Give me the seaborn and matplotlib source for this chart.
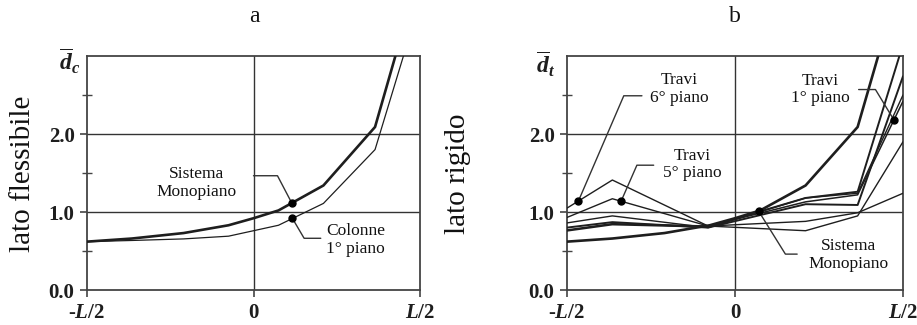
import numpy as np
import pandas as pd
import matplotlib
matplotlib.use("Agg")
import matplotlib.pyplot as plt
import seaborn as sns

# ---- data -------------------------------------------------------------
# positions along the plan, from -L/2 to L/2 (in units of L)
x_sys = [-0.5, -0.365, -0.21, -0.075, 0.0, 0.075, 0.21, 0.365, 0.5]
sistema_monopiano = [0.62, 0.66, 0.73, 0.83, 0.92, 1.02, 1.34, 2.09, 4.1]
colonne_1_piano = [0.62, 0.635, 0.655, 0.69, 0.76, 0.83, 1.11, 1.80, 3.7]

x_travi = [-0.5, -0.365, -0.08, 0.21, 0.365, 0.5]
travi_1_piano = [0.77, 0.85, 0.82, 1.13, 1.22, 2.42]
travi_2_piano = [0.76, 0.84, 0.81, 1.18, 1.26, 3.15]
travi_3_piano = [0.80, 0.87, 0.80, 1.10, 1.09, 2.74]
travi_4_piano = [0.86, 0.95, 0.80, 1.18, 1.24, 2.50]
travi_5_piano = [0.93, 1.17, 0.82, 0.88, 0.99, 1.24]
travi_6_piano = [1.05, 1.41, 0.82, 0.76, 0.95, 1.90]

y_ticks = [0.0, 1.0, 2.0]
y_ticklabels = ["0.0", "1.0", "2.0"]
x_ticks = [-0.5, 0.0, 0.5]
x_ticklabels = [r"-$\mathbfit{L}$/2", "0", r"$\mathbfit{L}$/2"]

# ---- style ------------------------------------------------------------
sns.set_theme(style="white")
plt.rcParams["font.family"] = ["Liberation Serif", "DejaVu Serif"]
plt.rcParams["mathtext.fontset"] = "custom"
plt.rcParams["mathtext.rm"] = "Liberation Serif"
plt.rcParams["mathtext.it"] = "Liberation Serif:italic"
plt.rcParams["mathtext.bf"] = "Liberation Serif:bold"
plt.rcParams["mathtext.bfit"] = "Liberation Serif:italic:bold"

INK = "#1e1e1e"
FRAME = "#444444"

fig = plt.figure(figsize=(9.17, 3.25), dpi=100)
ax_a = fig.add_axes([87 / 917, 35 / 325, 333 / 917, 234 / 325])
ax_b = fig.add_axes([567 / 917, 35 / 325, 336 / 917, 234 / 325])


def frame(ax):
    ax.set_xlim(-0.5, 0.5)
    ax.set_ylim(0, 3.0)
    for s in ax.spines.values():
        s.set_color(FRAME)
        s.set_linewidth(1.3)
    ax.axhline(1.0, color="#333333", lw=1.0, zorder=1)
    ax.axhline(2.0, color="#333333", lw=1.0, zorder=1)
    ax.axvline(0.0, color="#333333", lw=1.0, zorder=1)
    ax.set_yticks(y_ticks)
    ax.set_yticklabels(y_ticklabels, fontweight="bold", fontsize=15)
    ax.set_yticks([0.5, 1.5, 2.5], minor=True)
    ax.set_xticks(x_ticks)
    ax.set_xticklabels(x_ticklabels, fontweight="bold", fontsize=15)
    ax.tick_params(which="major", direction="out", length=5, width=1.2,
                   color=FRAME, labelcolor=INK, left=True, bottom=True)
    ax.tick_params(axis="y", which="major", pad=4)
    ax.tick_params(axis="x", which="major", pad=4)
    ax.tick_params(which="minor", axis="y", direction="inout", length=7,
                   width=1.0, color=FRAME, left=True)
    ax.set_xlabel("")
    ax.set_ylabel("")


def curve(ax, xs, ys, lw):
    sns.lineplot(x=xs, y=ys, ax=ax, color=INK, lw=lw, sort=False,
                 estimator=None, zorder=3)


def dot(ax, xs, ys, xm):
    ym = np.interp(xm, xs, ys)
    ax.plot([xm], [ym], "o", color="black", ms=5, zorder=5)
    return ym


def leader(ax, pts):
    px, py = zip(*pts)
    ax.plot(px, py, color="#333333", lw=1.0, zorder=4)


label_kw = dict(ha="center", va="center", fontsize=12.5, color="#111111",
                linespacing=1.15, zorder=6)

# ---- panel a ----------------------------------------------------------
frame(ax_a)
curve(ax_a, x_sys, sistema_monopiano, 1.9)
curve(ax_a, x_sys, colonne_1_piano, 0.9)

xm = 0.115
ym = dot(ax_a, x_sys, sistema_monopiano, xm)
leader(ax_a, [(0.0, 1.465), (0.072, 1.465), (xm, ym)])
ax_a.text(-0.17, 1.37, "Sistema\nMonopiano", **label_kw)

xm = 0.117
ym = dot(ax_a, x_sys, colonne_1_piano, xm)
leader(ax_a, [(xm, ym), (0.152, 0.663), (0.202, 0.663)])
ax_a.text(0.307, 0.64, "Colonne\n1° piano", **label_kw)

ax_a.text(-0.051, 0.975, r"$\overline{\mathbfit{d}}_{\mathbfit{c}}$",
          transform=ax_a.transAxes, ha="center", va="center", fontsize=17,
          color=INK)

# ---- panel b ----------------------------------------------------------
frame(ax_b)
for ys, lw in [(travi_1_piano, 1.1), (travi_2_piano, 1.4),
               (travi_3_piano, 1.4), (travi_4_piano, 1.0),
               (travi_5_piano, 1.0), (travi_6_piano, 1.0)]:
    curve(ax_b, x_travi, ys, lw)
curve(ax_b, x_sys, sistema_monopiano, 1.9)

xm = -0.466
ym = dot(ax_b, x_travi, travi_6_piano, xm)
leader(ax_b, [(xm, ym), (-0.331, 2.49), (-0.277, 2.49)])
ax_b.text(-0.165, 2.58, "Travi\n6° piano", **label_kw)

xm = -0.339
ym = dot(ax_b, x_travi, travi_5_piano, xm)
leader(ax_b, [(xm, ym), (-0.292, 1.60), (-0.242, 1.60)])
ax_b.text(-0.128, 1.61, "Travi\n5° piano", **label_kw)

xm = 0.473
ym = dot(ax_b, x_travi, travi_1_piano, xm)
leader(ax_b, [(0.368, 2.57), (0.418, 2.57), (xm, ym)])
ax_b.text(0.254, 2.57, "Travi\n1° piano", **label_kw)

xm = 0.07
ym = dot(ax_b, x_sys, sistema_monopiano, xm)
leader(ax_b, [(xm, ym), (0.15, 0.46), (0.185, 0.46)])
ax_b.text(0.338, 0.45, "Sistema\nMonopiano", **label_kw)

ax_b.text(-0.065, 0.962, r"$\overline{\mathbfit{d}}_{\mathbfit{t}}$",
          transform=ax_b.transAxes, ha="center", va="center", fontsize=17,
          color=INK)

# ---- panel titles and side labels -------------------------------------
fig.text(254 / 917, 1 - 16 / 325, "a", ha="center", va="center",
         fontsize=17, color="#111111")
fig.text(735 / 917, 1 - 16 / 325, "b", ha="center", va="center",
         fontsize=17, color="#111111")
fig.text(23 / 917, 1 - 174 / 325, "lato flessibile", rotation=90,
         ha="center", va="center", fontsize=21, color="#111111")
fig.text(458 / 917, 1 - 174 / 325, "lato rigido", rotation=90,
         ha="center", va="center", fontsize=21, color="#111111")

fig.savefig("out.png", dpi=100)
